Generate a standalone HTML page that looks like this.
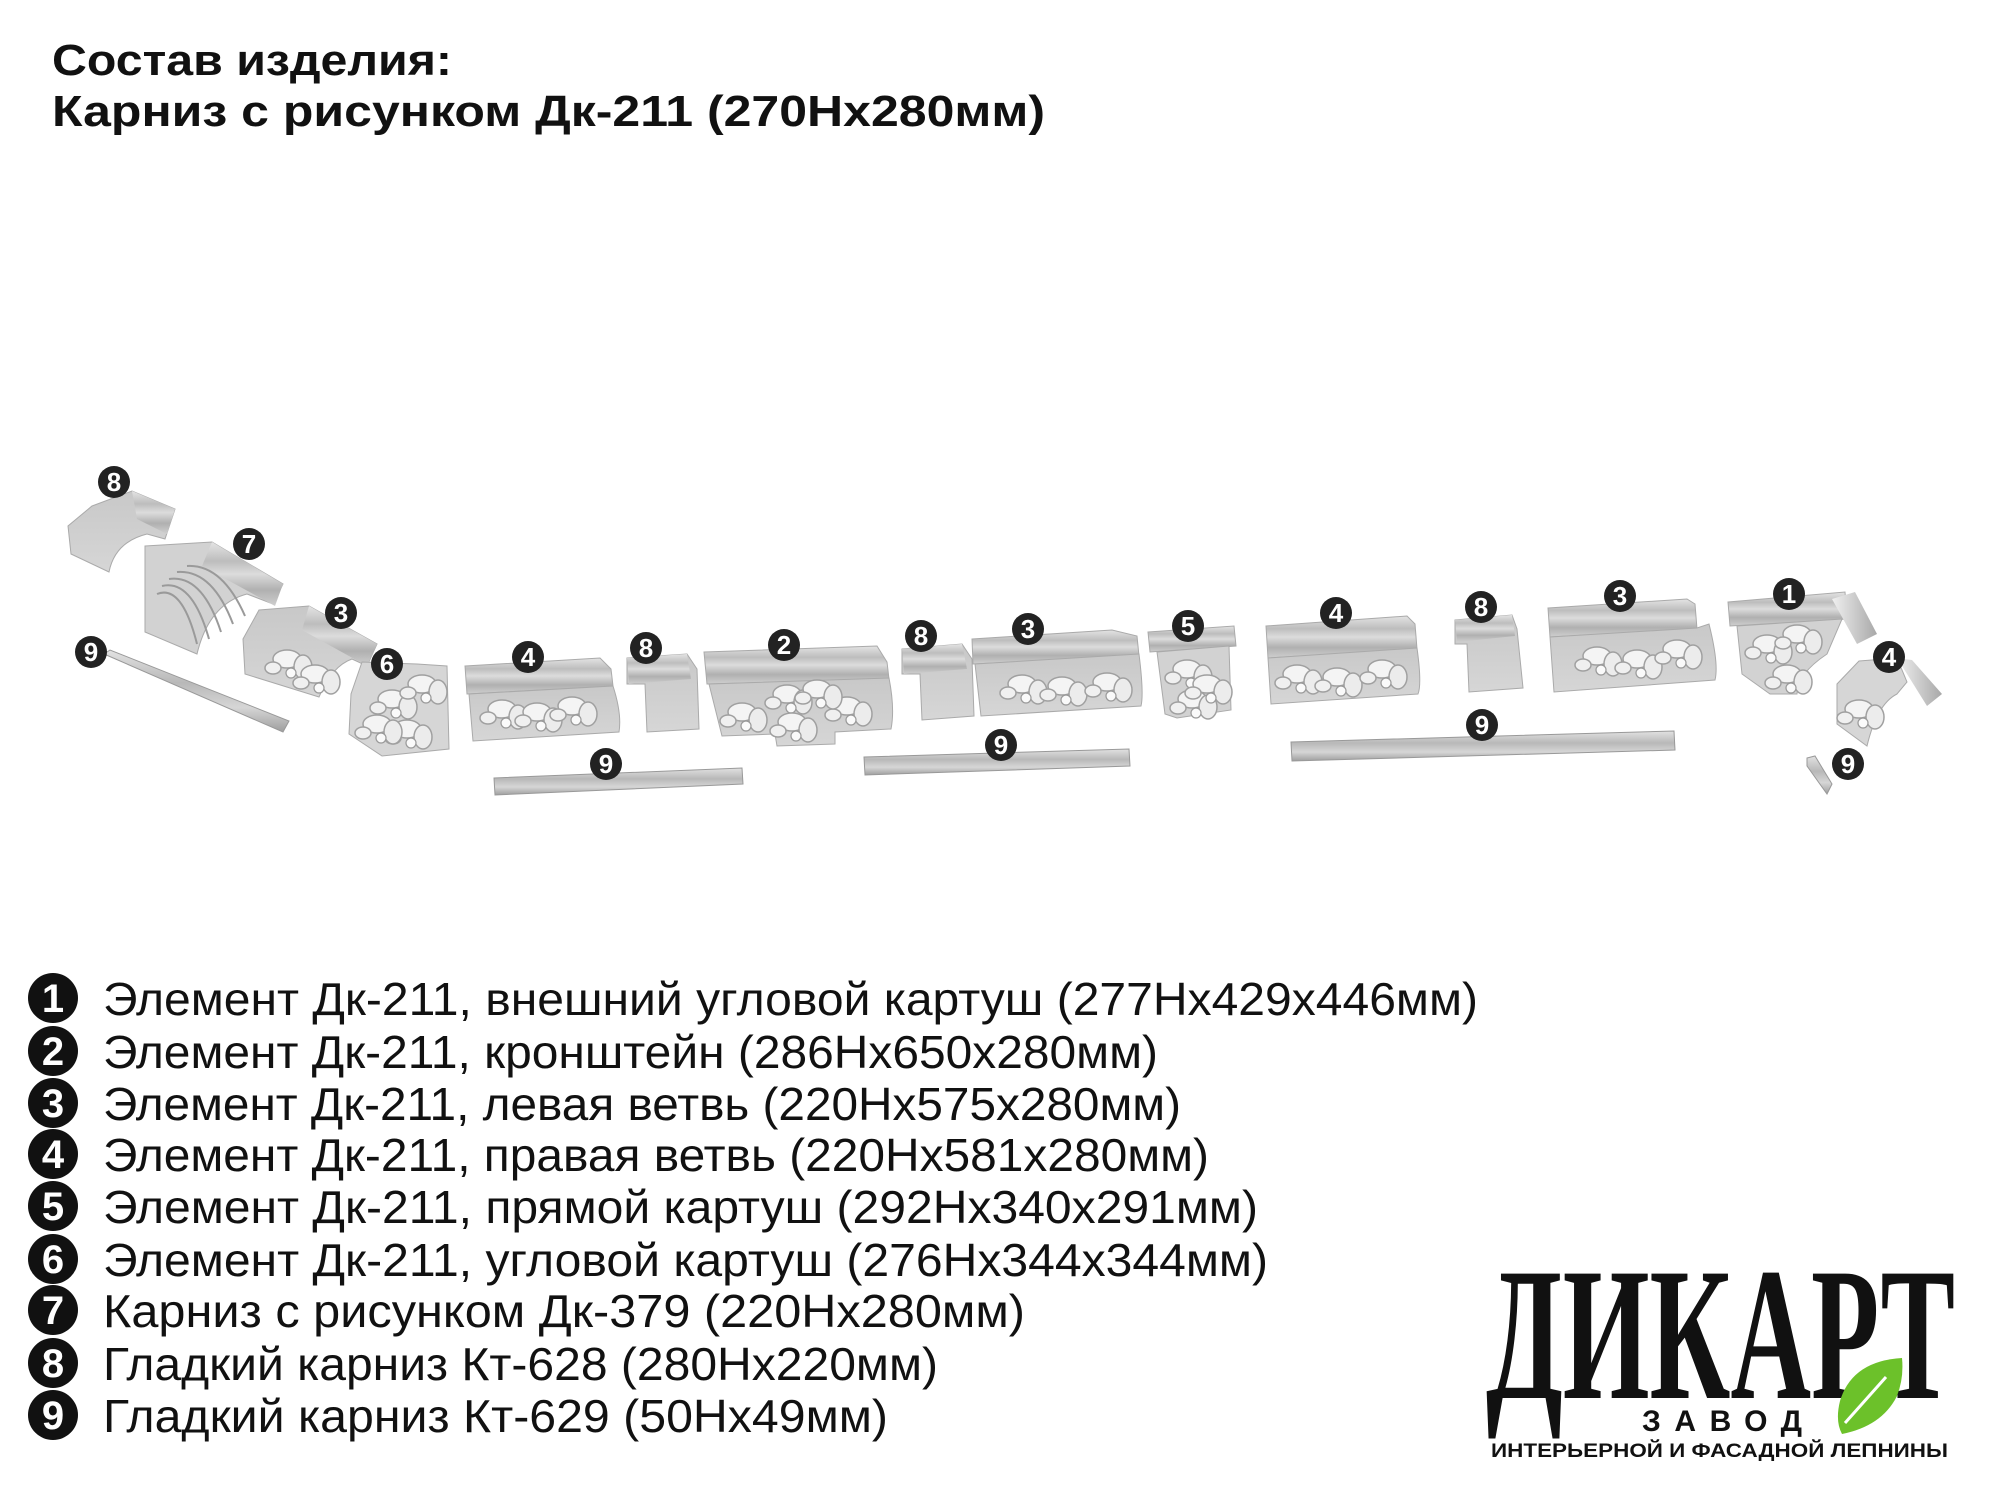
<!DOCTYPE html>
<html><head><meta charset="utf-8">
<style>
html,body{margin:0;padding:0;background:#fff;}
svg{display:block}
</style></head>
<body>
<svg width="2000" height="1486" viewBox="0 0 2000 1486" xmlns="http://www.w3.org/2000/svg">
<defs>
<linearGradient id="band" x1="0" y1="0" x2="0" y2="1">
<stop offset="0" stop-color="#e4e4e4"/><stop offset="0.3" stop-color="#bdbdbd"/><stop offset="0.5" stop-color="#dcdcdc"/><stop offset="0.75" stop-color="#b0b0b0"/><stop offset="1" stop-color="#cfcfcf"/>
</linearGradient>
<linearGradient id="body" x1="0" y1="0" x2="0" y2="1">
<stop offset="0" stop-color="#c8c8c8"/><stop offset="1" stop-color="#d6d6d6"/>
</linearGradient>
<linearGradient id="side" x1="0" y1="0" x2="1" y2="0">
<stop offset="0" stop-color="#f0f0f0"/><stop offset="1" stop-color="#a8a8a8"/>
</linearGradient>
<linearGradient id="rod" x1="0" y1="0" x2="0" y2="1">
<stop offset="0" stop-color="#e2e2e2"/><stop offset="0.4" stop-color="#b8b8b8"/><stop offset="0.7" stop-color="#d6d6d6"/><stop offset="1" stop-color="#9e9e9e"/>
</linearGradient>
<g id="orn">
<ellipse cx="0" cy="0" rx="14" ry="9" fill="#f4f4f4" stroke="#a0a0a0" stroke-width="1.5"/>
<ellipse cx="16" cy="8" rx="9" ry="12" fill="#ececec" stroke="#a0a0a0" stroke-width="1.5"/>
<ellipse cx="-14" cy="9" rx="8" ry="6" fill="#f0f0f0" stroke="#a0a0a0" stroke-width="1.5"/>
<circle cx="4" cy="14" r="5" fill="#fafafa" stroke="#999" stroke-width="1.2"/>
</g>
</defs>

<!-- Title -->
<g font-family="Liberation Sans, sans-serif" font-weight="bold" fill="#111">
<text x="52" y="75" font-size="44" textLength="400" lengthAdjust="spacingAndGlyphs">Состав изделия:</text>
<text x="52" y="126" font-size="44" textLength="993" lengthAdjust="spacingAndGlyphs">Карниз с рисунком Дк-211 (270Нх280мм)</text>
</g>

<g transform="translate(-3,-6)">
<path d="M95,512 L135,497 L178,515 L168,545 L150,540 Q118,548 112,578 L74,560 L71,532 Z" fill="url(#body)" stroke="#aaa"/>
<path d="M135,497 L178,515 L170,540 L140,525 Z" fill="url(#band)"/>
<path d="M148,552 L215,548 L286,590 L276,610 L250,600 Q212,610 200,660 L148,638 Z" fill="#d2d2d2" stroke="#aaa"/>
<path d="M215,548 L286,590 L278,612 L205,572 Z" fill="url(#band)"/>
<g stroke="#9a9a9a" stroke-width="2" fill="none">
<path d="M160,600 Q185,590 200,650"/><path d="M165,592 Q195,585 212,645"/><path d="M172,585 Q205,580 224,638"/><path d="M180,578 Q215,575 236,630"/><path d="M190,572 Q225,570 248,622"/>
</g>
<path d="M262,616 L312,612 L380,650 L370,672 L355,665 Q335,672 322,703 L248,680 L246,645 Z" fill="url(#body)" stroke="#aaa"/>
<path d="M312,612 L380,650 L370,672 L305,636 Z" fill="url(#band)"/>
<use href="#orn" x="290" y="665"/><use href="#orn" x="318" y="680"/>
<path d="M107,660 L113,656 L292,727 L286,738 Z" fill="url(#rod)" stroke="#999"/>
<path d="M365,668 L420,670 L450,672 L452,755 L385,762 L352,740 L354,700 Z" fill="#d6d6d6" stroke="#aaa"/>
<use href="#orn" x="395" y="705"/><use href="#orn" x="410" y="735"/><use href="#orn" x="380" y="730"/><use href="#orn" x="425" y="690"/>
<path d="M468,672 L603,664 L614,675 L616,692 L470,700 Z" fill="url(#band)" stroke="#aaa"/>
<path d="M472,700 L616,692 Q625,720 622,738 L476,747 Z" fill="url(#body)" stroke="#aaa"/>
<use href="#orn" x="505" y="715"/><use href="#orn" x="540" y="718"/><use href="#orn" x="575" y="712"/>
<path d="M630,664 L690,660 L700,675 L702,735 L650,738 L648,690 L630,690 Z" fill="url(#body)" stroke="#aaa"/>
<path d="M630,664 L690,660 L694,685 L632,690 Z" fill="url(#band)"/>
<path d="M707,658 L880,652 L890,668 L892,685 L710,690 Z" fill="url(#band)" stroke="#aaa"/>
<path d="M712,690 L892,684 Q898,715 894,735 L838,738 L838,750 L780,752 L778,740 L725,742 Z" fill="url(#body)" stroke="#aaa"/>
<use href="#orn" x="790" y="700"/><use href="#orn" x="795" y="728"/><use href="#orn" x="745" y="718"/><use href="#orn" x="850" y="712"/><use href="#orn" x="820" y="695"/>
<path d="M905,655 L965,650 L975,665 L977,722 L925,726 L923,680 L905,680 Z" fill="url(#body)" stroke="#aaa"/>
<path d="M905,655 L965,650 L970,675 L907,680 Z" fill="url(#band)"/>
<path d="M975,645 L1115,636 L1140,642 L1142,662 L976,670 Z" fill="url(#band)" stroke="#aaa"/>
<path d="M978,670 L1142,660 Q1147,700 1144,712 L984,722 Z" fill="url(#body)" stroke="#aaa"/>
<use href="#orn" x="1025" y="690"/><use href="#orn" x="1065" y="692"/><use href="#orn" x="1110" y="688"/>
<path d="M1151,638 L1237,632 L1239,652 L1153,658 Z" fill="url(#band)" stroke="#aaa"/>
<path d="M1160,658 L1232,652 L1234,716 L1180,724 L1168,720 Z" fill="#d2d2d2" stroke="#aaa"/>
<use href="#orn" x="1190" y="675"/><use href="#orn" x="1195" y="705"/><use href="#orn" x="1210" y="690"/>
<path d="M1269,632 L1410,622 L1418,630 L1420,655 L1271,664 Z" fill="url(#band)" stroke="#aaa"/>
<path d="M1271,664 L1420,654 Q1425,690 1421,700 L1274,710 Z" fill="url(#body)" stroke="#aaa"/>
<use href="#orn" x="1300" y="680"/><use href="#orn" x="1340" y="683"/><use href="#orn" x="1385" y="675"/>
<path d="M1458,626 L1515,621 L1520,635 L1526,694 L1472,698 L1470,650 L1458,650 Z" fill="url(#body)" stroke="#aaa"/>
<path d="M1458,626 L1515,621 L1518,642 L1460,648 Z" fill="url(#band)"/>
<path d="M1551,614 L1690,605 L1698,610 L1700,635 L1553,643 Z" fill="url(#band)" stroke="#aaa"/>
<path d="M1553,643 L1700,634 L1712,630 Q1722,670 1718,686 L1557,698 Z" fill="url(#body)" stroke="#aaa"/>
<use href="#orn" x="1600" y="662"/><use href="#orn" x="1640" y="665"/><use href="#orn" x="1680" y="655"/>
<path d="M1731,608 L1848,598 L1850,625 L1733,632 Z" fill="url(#band)" stroke="#aaa"/>
<path d="M1835,605 L1858,598 L1880,640 L1860,650 Z" fill="url(#side)"/>
<path d="M1740,632 L1845,625 L1830,660 Q1800,680 1800,700 L1773,700 L1745,680 Z" fill="#d2d2d2" stroke="#aaa"/>
<use href="#orn" x="1770" y="650"/><use href="#orn" x="1800" y="640"/><use href="#orn" x="1790" y="680"/>
<path d="M1862,667 L1900,664 L1910,688 L1900,700 Q1880,710 1870,752 L1840,730 L1840,690 Z" fill="#d6d6d6" stroke="#aaa"/>
<path d="M1900,664 L1915,666 L1945,700 L1930,712 Z" fill="url(#side)"/>
<use href="#orn" x="1862" y="715"/>
<path d="M1810,764 L1818,762 L1835,790 L1830,800 L1810,772 Z" fill="url(#rod)" stroke="#999"/>
<path d="M497,784 L745,774 L746,790 L498,801 Z" fill="url(#rod)" stroke="#999"/>
<path d="M867,763 L1132,755 L1133,772 L868,781 Z" fill="url(#rod)" stroke="#999"/>
<path d="M1294,748 L1677,737 L1678,756 L1295,767 Z" fill="url(#rod)" stroke="#999"/>

<g font-family="Liberation Sans, sans-serif" font-weight="bold" font-size="26" fill="#fff" text-anchor="middle">
<g fill="#222"><circle cx="117" cy="488" r="16"/><circle cx="252" cy="550" r="16"/><circle cx="344" cy="619" r="16"/><circle cx="94" cy="658" r="16"/><circle cx="390" cy="670" r="16"/><circle cx="531" cy="663" r="16"/><circle cx="649" cy="654" r="16"/><circle cx="787" cy="651" r="16"/><circle cx="924" cy="642" r="16"/><circle cx="1031" cy="635" r="16"/><circle cx="1191" cy="632" r="16"/><circle cx="1339" cy="619" r="16"/><circle cx="1484" cy="613" r="16"/><circle cx="1623" cy="602" r="16"/><circle cx="1792" cy="600" r="16"/><circle cx="1892" cy="663" r="16"/><circle cx="1851" cy="770" r="16"/><circle cx="609" cy="770" r="16"/><circle cx="1004" cy="751" r="16"/><circle cx="1485" cy="731" r="16"/></g>
<text x="117" y="497">8</text><text x="252" y="559">7</text><text x="344" y="628">3</text><text x="94" y="667">9</text><text x="390" y="679">6</text><text x="531" y="672">4</text><text x="649" y="663">8</text><text x="787" y="660">2</text><text x="924" y="651">8</text><text x="1031" y="644">3</text><text x="1191" y="641">5</text><text x="1339" y="628">4</text><text x="1484" y="622">8</text><text x="1623" y="611">3</text><text x="1792" y="609">1</text><text x="1892" y="672">4</text><text x="1851" y="779">9</text><text x="609" y="779">9</text><text x="1004" y="760">9</text><text x="1485" y="740">9</text>
</g>
</g>

<!-- Legend -->
<g transform="translate(0,-12)" font-family="Liberation Sans, sans-serif" font-size="46" fill="#111">
<g fill="#111"><circle cx="53" cy="1010" r="25"/><circle cx="53" cy="1063" r="25"/><circle cx="53" cy="1115" r="25"/><circle cx="53" cy="1166" r="25"/><circle cx="53" cy="1218" r="25"/><circle cx="53" cy="1271" r="25"/><circle cx="53" cy="1322" r="25"/><circle cx="53" cy="1375" r="25"/><circle cx="53" cy="1427" r="25"/></g>
<g fill="#fff" font-weight="bold" font-size="40" text-anchor="middle">
<text x="53" y="1024">1</text><text x="53" y="1077">2</text><text x="53" y="1129">3</text><text x="53" y="1180">4</text><text x="53" y="1232">5</text><text x="53" y="1285">6</text><text x="53" y="1336">7</text><text x="53" y="1389">8</text><text x="53" y="1441">9</text>
</g>
<text x="103" y="1027" textLength="1375" lengthAdjust="spacingAndGlyphs">Элемент Дк-211, внешний угловой картуш (277Нх429х446мм)</text>
<text x="103" y="1080" textLength="1055" lengthAdjust="spacingAndGlyphs">Элемент Дк-211, кронштейн (286Нх650х280мм)</text>
<text x="103" y="1132" textLength="1078" lengthAdjust="spacingAndGlyphs">Элемент Дк-211, левая ветвь (220Нх575х280мм)</text>
<text x="103" y="1183" textLength="1106" lengthAdjust="spacingAndGlyphs">Элемент Дк-211, правая ветвь (220Нх581х280мм)</text>
<text x="103" y="1235" textLength="1155" lengthAdjust="spacingAndGlyphs">Элемент Дк-211, прямой картуш (292Нх340х291мм)</text>
<text x="103" y="1288" textLength="1165" lengthAdjust="spacingAndGlyphs">Элемент Дк-211, угловой картуш (276Нх344х344мм)</text>
<text x="103" y="1339" textLength="922" lengthAdjust="spacingAndGlyphs">Карниз с рисунком Дк-379 (220Нх280мм)</text>
<text x="103" y="1392" textLength="835" lengthAdjust="spacingAndGlyphs">Гладкий карниз Кт-628 (280Нх220мм)</text>
<text x="103" y="1444" textLength="785" lengthAdjust="spacingAndGlyphs">Гладкий карниз Кт-629 (50Нх49мм)</text>
</g>

<!-- Logo -->
<text x="1486" y="1398" font-family="Liberation Serif, serif" font-weight="bold" font-size="190" fill="#111" textLength="469" lengthAdjust="spacingAndGlyphs">ДИКАРТ</text>
<path d="M1902,1358 Q1852,1361 1840,1401 Q1835,1421 1842,1434 Q1882,1426 1897,1396 Q1904,1378 1902,1358 Z" fill="#6cc12a"/>
<path d="M1886,1377 L1845,1423" stroke="#fff" stroke-width="3"/>
<text x="1642" y="1431" font-family="Liberation Sans, sans-serif" font-weight="bold" font-size="30" fill="#111" textLength="160" lengthAdjust="spacing">ЗАВОД</text>
<text x="1491" y="1457" font-family="Liberation Sans, sans-serif" font-weight="bold" font-size="19" fill="#111" textLength="457" lengthAdjust="spacingAndGlyphs">ИНТЕРЬЕРНОЙ И ФАСАДНОЙ ЛЕПНИНЫ</text>
</svg>
</body></html>
